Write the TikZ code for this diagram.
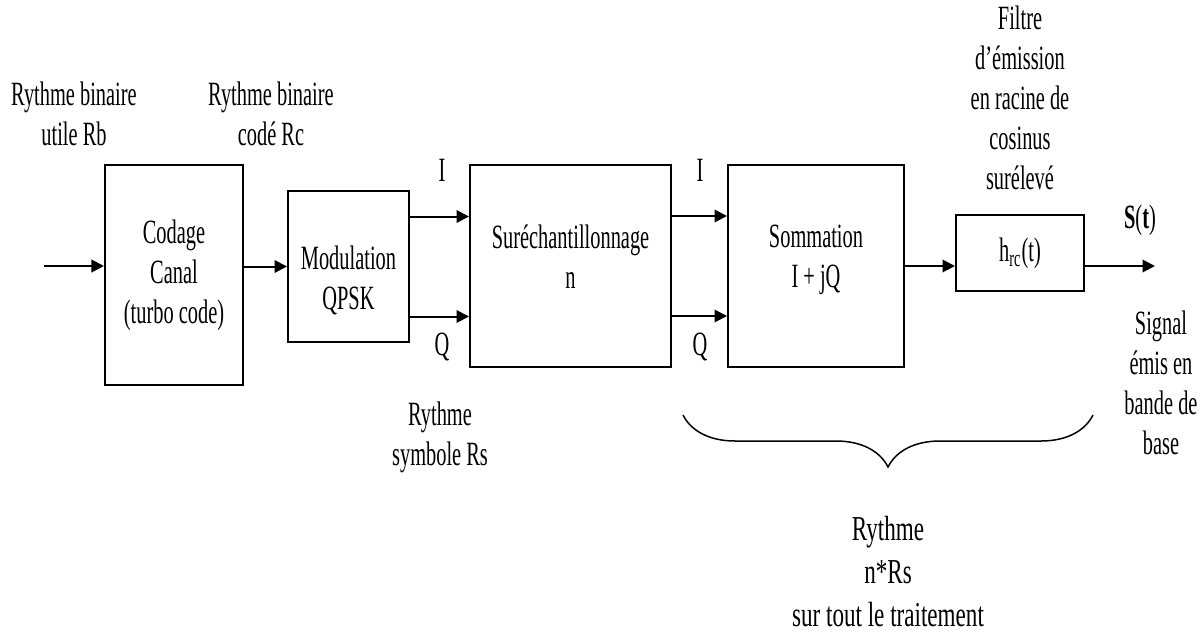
\documentclass[tikz,border=0pt]{standalone}
\usepackage{fontspec}
\setmainfont{Liberation Serif}[FakeStretch=0.6]
\newfontfamily\grandfont{Liberation Serif}[FakeStretch=0.66]
\usetikzlibrary{arrows.meta,positioning,decorations.pathreplacing}

\begin{document}
\begin{tikzpicture}[x=0.4pt, y=-0.4pt, font=\fontsize{13.6}{16}\selectfont, blk/.style={draw, line width=0.8pt, align=center, inner sep=0pt}, arr/.style={-{Triangle[length=5pt, width=5pt]}, line width=0.8pt}, lbl/.style={align=center}]
\useasboundingbox (0,0) rectangle (1201,634);
% blocs de la chaine d'emission
\node[blk, minimum width=55.2pt, minimum height=88pt] (cod) at (174,275) {Codage\\Canal\\(turbo code)};
\node[blk, minimum width=48.4pt, minimum height=60.4pt] (modul) at (348.5,266.5) {\rule{0pt}{20.5pt}Modulation\\QPSK};
\node[blk, minimum width=80.4pt, minimum height=80.8pt] (sur) at (570.5,266) {Suréchantillonnage\\n\rule[-7.2pt]{0pt}{7.2pt}};
\node[blk, minimum width=70.4pt, minimum height=80.8pt] (somm) at (816,266) {Sommation\\I + jQ\rule[-8pt]{0pt}{8pt}};
\node[blk, minimum width=51.2pt, minimum height=30.4pt] (hrc) at (1020,253) {h\textsubscript{rc}(t)};
\coordinate (in) at (44,266);
\coordinate (out) at (1155,266);
% liaisons
\draw[arr] (in) -- (in -| cod.west);
\draw[arr] (cod.east |- modul.west) -- (modul.west);
\draw[arr] ([yshift=20pt]modul.east) -- ([yshift=20pt]modul.east -| sur.west);
\draw[arr] ([yshift=-20pt]modul.east) -- ([yshift=-20pt]modul.east -| sur.west);
\draw[arr] ([yshift=20pt]sur.east) -- ([yshift=20pt]sur.east -| somm.west);
\draw[arr] ([yshift=-20pt]sur.east) -- ([yshift=-20pt]sur.east -| somm.west);
\draw[arr] (somm.east) -- (somm.east -| hrc.west);
\draw[arr] (hrc.east |- out) -- (out);
% textes
\node[lbl] (rb) at (74,114) {Rythme binaire\\utile Rb};
\node[lbl] (rc) at (271,114) {Rythme binaire\\codé Rc};
\node (i1) at (442,170) {I};
\node (q1) at (442,347) {Q};
\node (i2) at (700,170) {I};
\node (q2) at (700,347) {Q};
\node[lbl] (rs) at (440,437) {Rythme\\symbole Rs};
\node[lbl] (filt) at (1020,97.5) {Filtre\\d’émission\\en racine de\\cosinus\\surélevé};
\node (st) at (1140,220) {\textbf{S}(\textbf{t})};
\node[lbl] (sig) at (1161,383) {Signal\\émis en\\bande de\\base};
\coordinate (bl) at (683,415);
\coordinate (br) at (1093,415);
\draw[decorate, decoration={brace, mirror, amplitude=20.8pt}, line width=0.6pt] (bl) -- (br);
\node[lbl, font=\grandfont\fontsize{14}{17.2}\selectfont] (nrs) at (888,572) {Rythme\\n*Rs\\sur tout le traitement};
\end{tikzpicture}
\end{document}
